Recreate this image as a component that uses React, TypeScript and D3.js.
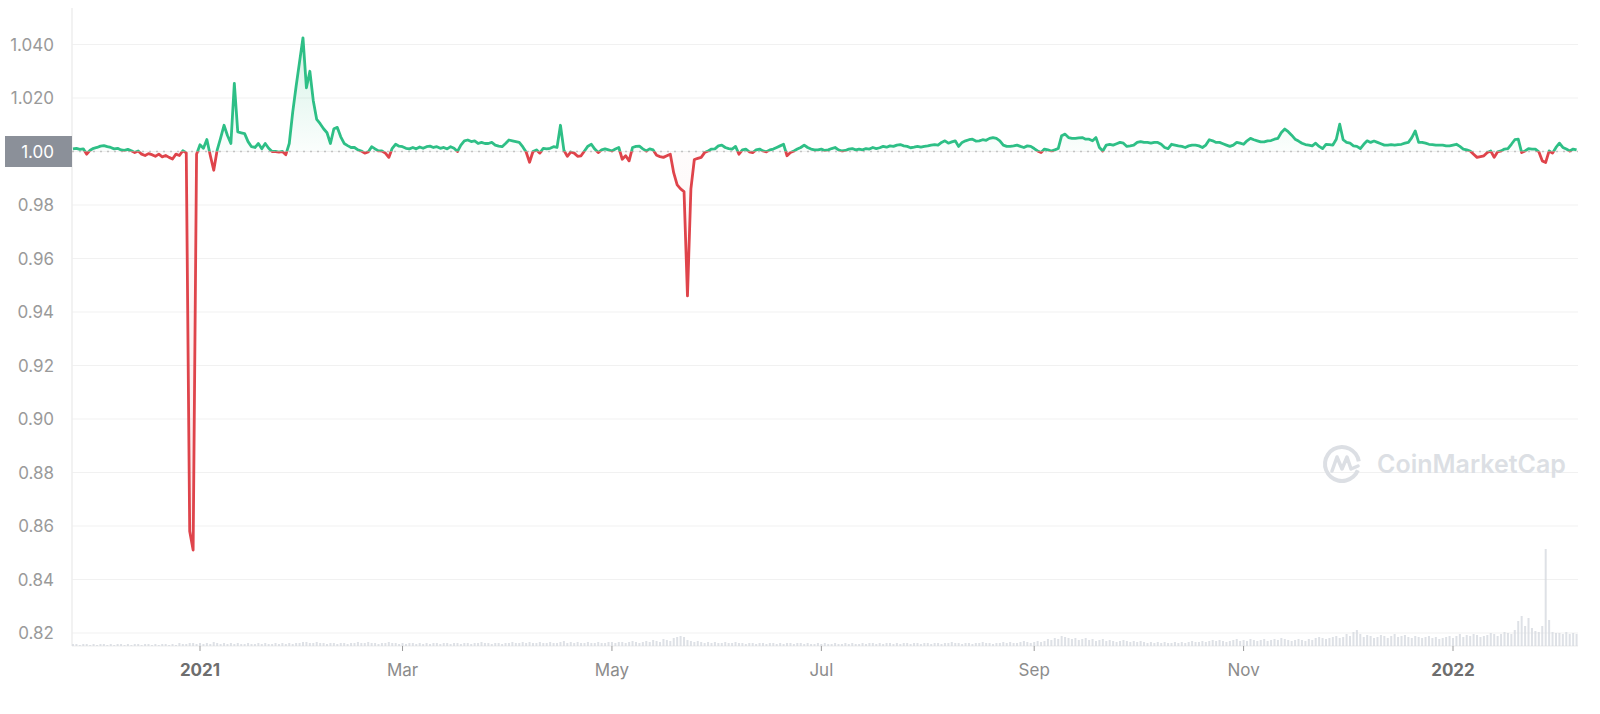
import React from 'react';
import * as d3 from 'd3';

// ---- DATA (daily closing price, USD) ----
const startDate = new Date(2020, 10, 25);

const nov2020 = [1.0010, 1.0012, 1.0008, 1.0010, 0.9990, 1.0005];
const dec2020 = [1.0012, 1.0015, 1.0020, 1.0022, 1.0018, 1.0015, 1.0010, 1.0012, 1.0006, 1.0004, 1.0008, 1.0003, 0.9996, 1.0002, 0.9990, 0.9985, 0.9992, 0.9988, 0.9982, 0.9990, 0.9980, 0.9985, 0.9978, 0.9972, 0.9990, 0.9985, 1.0003, 0.9995, 0.8580, 0.8510, 0.9990];
const jan2021 = [1.0025, 1.0012, 1.0045, 0.9985, 0.9930, 1.0005, 1.0050, 1.0098, 1.0060, 1.0030, 1.0255, 1.0073, 1.0070, 1.0067, 1.0037, 1.0018, 1.0015, 1.0030, 1.0010, 1.0030, 1.0012, 1.0000, 1.0000, 0.9998, 1.0000, 0.9988, 1.0030, 1.0146, 1.0244, 1.0335, 1.0425];
const feb2021 = [1.0238, 1.0300, 1.0190, 1.0120, 1.0104, 1.0085, 1.0070, 1.0030, 1.0085, 1.0090, 1.0055, 1.0030, 1.0022, 1.0015, 1.0015, 1.0006, 1.0002, 0.9994, 0.9998, 1.0018, 1.0010, 1.0002, 1.0002, 0.9994, 0.9978, 1.0012, 1.0027, 1.0020];
const mar2021 = [1.0018, 1.0012, 1.0010, 1.0015, 1.0010, 1.0017, 1.0012, 1.0018, 1.0020, 1.0015, 1.0018, 1.0012, 1.0015, 1.0010, 1.0018, 1.0012, 1.0000, 1.0024, 1.0040, 1.0043, 1.0037, 1.0040, 1.0030, 1.0034, 1.0030, 1.0030, 1.0034, 1.0024, 1.0020, 1.0018, 1.0030];
const apr2021 = [1.0043, 1.0040, 1.0037, 1.0034, 1.0018, 0.9998, 0.9960, 1.0000, 1.0006, 0.9994, 1.0012, 1.0010, 1.0012, 1.0018, 1.0015, 1.0098, 1.0005, 0.9982, 0.9998, 0.9994, 0.9982, 0.9984, 1.0002, 1.0020, 1.0027, 1.0009, 0.9996, 1.0006, 1.0010, 1.0006];
const may2021 = [1.0002, 1.0009, 1.0015, 0.9971, 0.9984, 0.9965, 1.0015, 1.0019, 1.0020, 1.0010, 1.0002, 1.0010, 1.0006, 0.9986, 0.9981, 0.9978, 0.9984, 0.9990, 0.9920, 0.9875, 0.9860, 0.9850, 0.9460, 0.9860, 0.9970, 0.9974, 0.9978, 0.9996, 1.0002, 1.0009, 1.0010];
const jun2021 = [1.0021, 1.0024, 1.0015, 1.0011, 1.0009, 1.0019, 0.9990, 1.0006, 1.0009, 0.9999, 0.9996, 1.0006, 1.0009, 1.0002, 0.9999, 1.0006, 1.0009, 1.0015, 1.0021, 1.0027, 0.9984, 0.9996, 1.0002, 1.0009, 1.0015, 1.0024, 1.0015, 1.0009, 1.0006, 1.0006];
const jul2021 = [1.0009, 1.0004, 1.0006, 1.0011, 1.0015, 1.0006, 1.0002, 1.0004, 1.0009, 1.0011, 1.0006, 1.0009, 1.0006, 1.0011, 1.0009, 1.0015, 1.0011, 1.0014, 1.0019, 1.0016, 1.0021, 1.0019, 1.0024, 1.0026, 1.0021, 1.0019, 1.0014, 1.0016, 1.0019, 1.0016, 1.0019];
const aug2021 = [1.0021, 1.0024, 1.0026, 1.0024, 1.0034, 1.0040, 1.0031, 1.0036, 1.0040, 1.0019, 1.0034, 1.0040, 1.0044, 1.0046, 1.0039, 1.0040, 1.0044, 1.0042, 1.0049, 1.0052, 1.0049, 1.0040, 1.0024, 1.0019, 1.0019, 1.0021, 1.0024, 1.0019, 1.0015, 1.0021, 1.0019];
const sep2021 = [1.0011, 1.0002, 0.9996, 1.0009, 1.0006, 1.0002, 1.0006, 1.0011, 1.0059, 1.0065, 1.0052, 1.0049, 1.0049, 1.0051, 1.0052, 1.0046, 1.0046, 1.0040, 1.0052, 1.0015, 1.0002, 1.0024, 1.0027, 1.0024, 1.0029, 1.0034, 1.0031, 1.0019, 1.0021, 1.0024];
const oct2021 = [1.0034, 1.0037, 1.0034, 1.0034, 1.0031, 1.0034, 1.0034, 1.0027, 1.0015, 1.0011, 1.0027, 1.0024, 1.0021, 1.0019, 1.0015, 1.0021, 1.0024, 1.0024, 1.0021, 1.0015, 1.0024, 1.0044, 1.0040, 1.0034, 1.0034, 1.0029, 1.0024, 1.0019, 1.0024, 1.0034, 1.0031];
const nov2021 = [1.0027, 1.0040, 1.0049, 1.0044, 1.0040, 1.0036, 1.0036, 1.0040, 1.0041, 1.0046, 1.0049, 1.0071, 1.0084, 1.0074, 1.0061, 1.0046, 1.0039, 1.0031, 1.0026, 1.0024, 1.0021, 1.0031, 1.0019, 1.0011, 1.0027, 1.0026, 1.0024, 1.0046, 1.0102, 1.0044];
const dec2021 = [1.0034, 1.0031, 1.0021, 1.0019, 1.0011, 1.0027, 1.0040, 1.0034, 1.0039, 1.0034, 1.0029, 1.0024, 1.0024, 1.0026, 1.0024, 1.0026, 1.0027, 1.0031, 1.0034, 1.0052, 1.0077, 1.0034, 1.0034, 1.0031, 1.0027, 1.0026, 1.0024, 1.0024, 1.0024, 1.0021, 1.0021];
const jan2022 = [1.0024, 1.0027, 1.0019, 1.0009, 1.0006, 1.0002, 0.9990, 0.9978, 0.9981, 0.9984, 0.9996, 1.0002, 0.9978, 0.9999, 1.0002, 1.0009, 1.0011, 1.0027, 1.0044, 1.0046, 0.9996, 1.0002, 1.0011, 1.0009, 1.0009, 0.9999, 0.9965, 0.9959, 1.0002, 0.9994, 1.0015];
const feb2022 = [1.0031, 1.0015, 1.0009, 1.0002, 1.0009, 1.0006];

// daily volume (relative units, millions)
const volNov2020 = [2, 2, 1, 2, 2, 1];
const volDec2020 = [2, 1, 2, 2, 1, 2, 1, 2, 2, 1, 2, 1, 2, 2, 1, 2, 2, 1, 2, 1, 2, 2, 1, 2, 1, 3, 2, 2, 3, 3, 2];
const volJan2021 = [3, 2, 3, 2, 4, 3, 2, 3, 2, 3, 2, 3, 2, 2, 3, 2, 2, 3, 2, 3, 2, 2, 3, 2, 3, 2, 3, 2, 3, 3, 4];
const volFeb2021 = [4, 3, 3, 4, 3, 3, 2, 3, 3, 2, 3, 3, 2, 3, 3, 4, 3, 3, 4, 3, 3, 2, 3, 3, 4, 3, 3, 2];
const volMar2021 = [3, 2, 3, 3, 2, 3, 2, 3, 2, 3, 3, 2, 3, 3, 2, 3, 3, 2, 3, 3, 2, 3, 3, 4, 3, 3, 2, 3, 3, 2, 3];
const volApr2021 = [3, 4, 3, 3, 4, 3, 4, 3, 3, 4, 3, 3, 4, 3, 3, 4, 5, 3, 4, 3, 4, 3, 3, 4, 3, 3, 4, 3, 3, 4];
const volMay2021 = [4, 3, 4, 4, 3, 4, 5, 4, 3, 4, 5, 4, 6, 5, 4, 7, 6, 5, 8, 9, 10, 9, 6, 5, 4, 5, 4, 3, 4, 3, 4];
const volJun2021 = [3, 3, 4, 3, 3, 4, 3, 3, 2, 3, 3, 2, 3, 3, 2, 3, 3, 2, 3, 2, 3, 3, 2, 3, 3, 2, 3, 2, 2, 3];
const volJul2021 = [2, 3, 2, 2, 3, 2, 2, 3, 2, 3, 2, 2, 3, 2, 3, 3, 2, 3, 2, 3, 3, 2, 3, 2, 3, 3, 2, 3, 3, 2, 3];
const volAug2021 = [3, 2, 3, 3, 2, 3, 3, 4, 3, 3, 2, 3, 3, 2, 3, 3, 4, 3, 3, 2, 3, 3, 4, 3, 4, 3, 3, 4, 5, 4, 3];
const volSep2021 = [4, 5, 4, 5, 7, 6, 8, 7, 10, 9, 8, 7, 8, 6, 7, 8, 6, 7, 5, 6, 7, 5, 6, 5, 4, 5, 6, 5, 4, 5];
const volOct2021 = [4, 5, 4, 3, 4, 3, 4, 3, 4, 3, 3, 4, 3, 4, 3, 4, 5, 4, 4, 5, 4, 5, 6, 5, 6, 5, 4, 5, 6, 7, 5];
const volNov2021 = [6, 5, 7, 6, 5, 6, 7, 5, 6, 7, 6, 8, 7, 6, 5, 6, 7, 6, 5, 7, 6, 8, 9, 8, 7, 8, 9, 10, 8, 9];
const volDec2021 = [12, 10, 14, 16, 12, 9, 11, 10, 8, 9, 11, 10, 8, 10, 12, 9, 10, 11, 9, 8, 10, 9, 8, 9, 10, 8, 9, 7, 8, 9, 10];
const volJan2022 = [8, 10, 12, 9, 11, 10, 12, 11, 9, 10, 11, 13, 12, 10, 12, 14, 13, 12, 16, 25, 30, 20, 28, 18, 15, 14, 20, 97, 26, 14, 13];
const volFeb2022 = [13, 12, 14, 12, 13, 12];

const yTickValues = [1.04, 1.02, 1.0, 0.98, 0.96, 0.94, 0.92, 0.9, 0.88, 0.86, 0.84, 0.82];
const yTickLabels = ['1.040', '1.020', '1.00', '0.98', '0.96', '0.94', '0.92', '0.90', '0.88', '0.86', '0.84', '0.82'];
const xTickDates = [new Date(2021, 0, 1), new Date(2021, 2, 1), new Date(2021, 4, 1), new Date(2021, 6, 1), new Date(2021, 8, 1), new Date(2021, 10, 1), new Date(2022, 0, 1)];
const xTickLabels = ['2021', 'Mar', 'May', 'Jul', 'Sep', 'Nov', '2022'];
const xTickBold = [true, false, false, false, false, false, true];
const referencePrice = 1.0;
const referenceLabel = '1.00';

const prices = [nov2020, dec2020, jan2021, feb2021, mar2021, apr2021, may2021, jun2021, jul2021, aug2021, sep2021, oct2021, nov2021, dec2021, jan2022, feb2022].flat();
const volumes = [volNov2020, volDec2020, volJan2021, volFeb2021, volMar2021, volApr2021, volMay2021, volJun2021, volJul2021, volAug2021, volSep2021, volOct2021, volNov2021, volDec2021, volJan2022, volFeb2022].flat();

const data = prices.map((p, i) => ({
  date: d3.timeDay.offset(startDate, i),
  price: p,
  volume: volumes[i] ?? 0,
}));

const W = 1600;
const H = 714;
const plotLeft = 72;
const plotRight = 1578;
const plotTop = 8;
const volBase = 646;
const FONT = "Inter, 'Noto Sans', 'DejaVu Sans', sans-serif";
const GREEN = '#2ebf86';
const RED = '#df444b';

export default function App() {
  const x = d3.scaleTime().domain([new Date(2021, 0, 1), new Date(2022, 0, 1)]).range([200, 1453]);
  const y = d3.scaleLinear().domain([0.82, 1.04]).range([633, 44.5]);
  const vMax = d3.max(volumes) as number;
  const vh = d3.scaleLinear().domain([0, vMax]).range([0, 97]);
  const yRef = y(referencePrice);

  const line = d3.line<any>().x((d) => x(d.date)).y((d) => y(d.price));
  const area = d3.area<any>().x((d) => x(d.date)).y0(yRef).y1((d) => y(d.price));
  const linePath = line(data) || '';
  const areaPath = area(data) || '';

  const cx = 1342;
  const cy = 464;
  const r = 17;
  const arc = d3.arc()({ innerRadius: r - 2, outerRadius: r + 2, startAngle: Math.PI * 0.62, endAngle: Math.PI * 2.45 } as any) || '';

  return (
    <svg width={W} height={H} style={{ position: 'absolute', left: 0, top: 0, background: '#fff' }} fontFamily={FONT}>
      <defs>
        <clipPath id="above">
          <rect x={0} y={0} width={W} height={yRef} />
        </clipPath>
        <clipPath id="below">
          <rect x={0} y={yRef} width={W} height={H - yRef} />
        </clipPath>
        <linearGradient id="gFill" gradientUnits="userSpaceOnUse" x1={0} y1={y(1.042)} x2={0} y2={yRef}>
          <stop offset="0" stopColor={GREEN} stopOpacity={0.2} />
          <stop offset="1" stopColor={GREEN} stopOpacity={0.02} />
        </linearGradient>
        <linearGradient id="rFill" gradientUnits="userSpaceOnUse" x1={0} y1={yRef} x2={0} y2={y(0.85)}>
          <stop offset="0" stopColor={RED} stopOpacity={0.02} />
          <stop offset="1" stopColor={RED} stopOpacity={0.12} />
        </linearGradient>
      </defs>
      <rect x={0} y={0} width={W} height={H} fill="#fff" />

      {/* grid */}
      {yTickValues.map((v) => (
        <line key={v} x1={plotLeft} x2={plotRight} y1={y(v)} y2={y(v)} stroke="#f1f1f1" strokeWidth={1.2} />
      ))}
      <line x1={plotLeft} x2={plotLeft} y1={plotTop} y2={volBase} stroke="#eeeeee" strokeWidth={1.5} />
      <line x1={plotLeft} x2={plotRight} y1={volBase} y2={volBase} stroke="#ededed" strokeWidth={1.2} />

      {/* volume bars */}
      {data.map((d, i) => (
        <rect key={i} x={x(d.date) - 1} y={volBase - vh(d.volume)} width={2} height={vh(d.volume)} fill="#d6dae0" opacity={0.8} />
      ))}

      {/* watermark */}
      <g fill="#dcdfe4">
        <path d={arc} transform={`translate(${cx},${cy})`} />
        <path d={`M${cx - 10},${cy + 7} L${cx - 5},${cy - 7} L${cx},${cy + 5} L${cx + 5},${cy - 7} L${cx + 9},${cy + 5} L${cx + 16},${cy + 2}`} fill="none" stroke="#dcdfe4" strokeWidth={3.5} strokeLinejoin="round" strokeLinecap="round" />
        <text x={1377} y={473} fontSize={25} fontWeight={600}>CoinMarketCap</text>
      </g>

      {/* reference dotted line */}
      <line x1={plotLeft} x2={plotRight} y1={yRef} y2={yRef} stroke="#c4c4c4" strokeWidth={1.5} strokeDasharray="2 5" />

      {/* areas */}
      <path d={areaPath} fill="url(#gFill)" clipPath="url(#above)" />
      <path d={areaPath} fill="url(#rFill)" clipPath="url(#below)" />

      {/* lines */}
      <path d={linePath} fill="none" stroke={GREEN} strokeWidth={2.8} strokeLinejoin="round" clipPath="url(#above)" />
      <path d={linePath} fill="none" stroke={RED} strokeWidth={2.8} strokeLinejoin="round" clipPath="url(#below)" />

      {/* y labels */}
      {yTickValues.map((v, i) =>
        v === referencePrice ? null : (
          <text key={v} x={54} y={y(v)} dy="0.36em" textAnchor="end" fontSize={17} fill="#9a9a9a">
            {yTickLabels[i]}
          </text>
        )
      )}
      <rect x={5} y={yRef - 15.5} width={plotLeft - 5} height={31} fill="#8b9099" />
      <text x={54} y={yRef} dy="0.36em" textAnchor="end" fontSize={17} fill="#ffffff">
        {referenceLabel}
      </text>

      {/* x axis */}
      {xTickDates.map((d, i) => (
        <g key={i}>
          <line x1={x(d)} x2={x(d)} y1={volBase} y2={volBase + 5} stroke="#9a9a9a" strokeWidth={1} />
          <text x={x(d)} y={676} textAnchor="middle" fontSize={17} fontWeight={xTickBold[i] ? 700 : 400} fill={xTickBold[i] ? '#6e6e6e' : '#8c8c8c'}>
            {xTickLabels[i]}
          </text>
        </g>
      ))}
    </svg>
  );
}
